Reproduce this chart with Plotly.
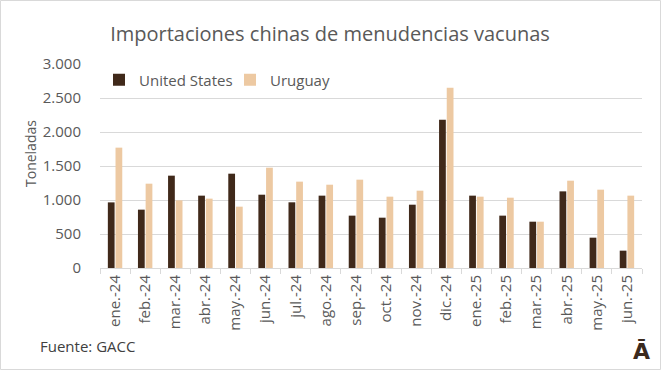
import plotly.graph_objects as go

categories = ["ene.-24", "feb.-24", "mar.-24", "abr.-24", "may.-24", "jun.-24",
              "jul.-24", "ago.-24", "sep.-24", "oct.-24", "nov.-24", "dic.-24",
              "ene.-25", "feb.-25", "mar.-25", "abr.-25", "may.-25", "jun.-25"]
united_states = [965, 858, 1358, 1064, 1387, 1078, 966, 1064, 770, 740, 931, 2181,
                 1064, 770, 681, 1127, 446, 255]
uruguay = [1770, 1240, 995, 1020, 902, 1475, 1270, 1225, 1299, 1049, 1137, 2652,
           1049, 1034, 681, 1284, 1152, 1064]
y_ticks = [0, 500, 1000, 1500, 2000, 2500, 3000]

W, H = 662, 371
ML, MR, MT, MB = 100, 20, 64, 103
PW, PH = W - ML - MR, H - MT - MB

def px_x(x):
    return (x - ML) / PW

def px_y(y):
    return (H - MB - y) / PH

FONT = "Open Sans"
GRAY = "#595959"

fig = go.Figure()
fig.add_trace(go.Bar(name="United States", x=categories, y=united_states,
                     marker=dict(color="#40291A", line=dict(width=0))))
fig.add_trace(go.Bar(name="Uruguay", x=categories, y=uruguay,
                     marker=dict(color="#EDC9A2", line=dict(width=0))))

fig.update_layout(
    width=W, height=H,
    margin=dict(l=ML, r=MR, t=MT, b=MB),
    paper_bgcolor="white", plot_bgcolor="white",
    separators=",.",
    barmode="group", bargap=0.49, bargroupgap=0.12,
    font=dict(family=FONT, color=GRAY, size=15),
    title=dict(text="Importaciones chinas de menudencias vacunas",
               x=330 / W, xanchor="center", xref="container",
               y=1 - 34 / H, yanchor="middle", yref="container",
               font=dict(family=FONT, size=20, color=GRAY)),
    legend=dict(orientation="h", x=px_x(99), y=px_y(80), xanchor="left", yanchor="middle",
                font=dict(family=FONT, size=15, color=GRAY), bgcolor="rgba(0,0,0,0)",
                traceorder="normal", entrywidth=86, entrywidthmode="pixels"),
    showlegend=True,
)
fig.update_xaxes(type="category", showline=True, linecolor="#D9D9D9", linewidth=1,
                 ticks="outside", tickson="boundaries", ticklen=5, tickcolor="#D9D9D9",
                 tickangle=-90, tickfont=dict(family=FONT, size=15, color=GRAY),
                 showgrid=False)
fig.update_yaxes(range=[0, 3000], tickvals=y_ticks, tickformat=",d",
                 showgrid=True, gridcolor="#D9D9D9", gridwidth=1,
                 zeroline=False, showline=False,
                 tickfont=dict(family=FONT, size=15, color=GRAY),
                 ticklabelstandoff=18)

fig.add_annotation(text="Toneladas", xref="paper", yref="paper",
                   x=px_x(30), y=px_y(154), textangle=-90, showarrow=False,
                   xanchor="center", yanchor="middle",
                   font=dict(family=FONT, size=14, color=GRAY))
fig.add_annotation(text="Fuente: GACC", xref="paper", yref="paper",
                   x=px_x(38), y=px_y(346), showarrow=False,
                   xanchor="left", yanchor="middle",
                   font=dict(family=FONT, size=15, color="#404040"))
fig.add_annotation(text="<b>Ā</b>", xref="paper", yref="paper",
                   x=px_x(641), y=px_y(351), showarrow=False,
                   xanchor="center", yanchor="middle",
                   font=dict(family="DejaVu Sans", size=22, color="#3B2A1E"))
fig.add_shape(type="rect", xref="paper", yref="paper",
              x0=px_x(0.5), x1=px_x(660.5), y0=px_y(369.5), y1=px_y(0.5),
              line=dict(color="#D9D9D9", width=1), fillcolor="rgba(0,0,0,0)", layer="below")

fig.write_html("out.html", config={"displayModeBar": False},
               post_script="document.body.style.margin='0';document.body.style.overflow='hidden';")
